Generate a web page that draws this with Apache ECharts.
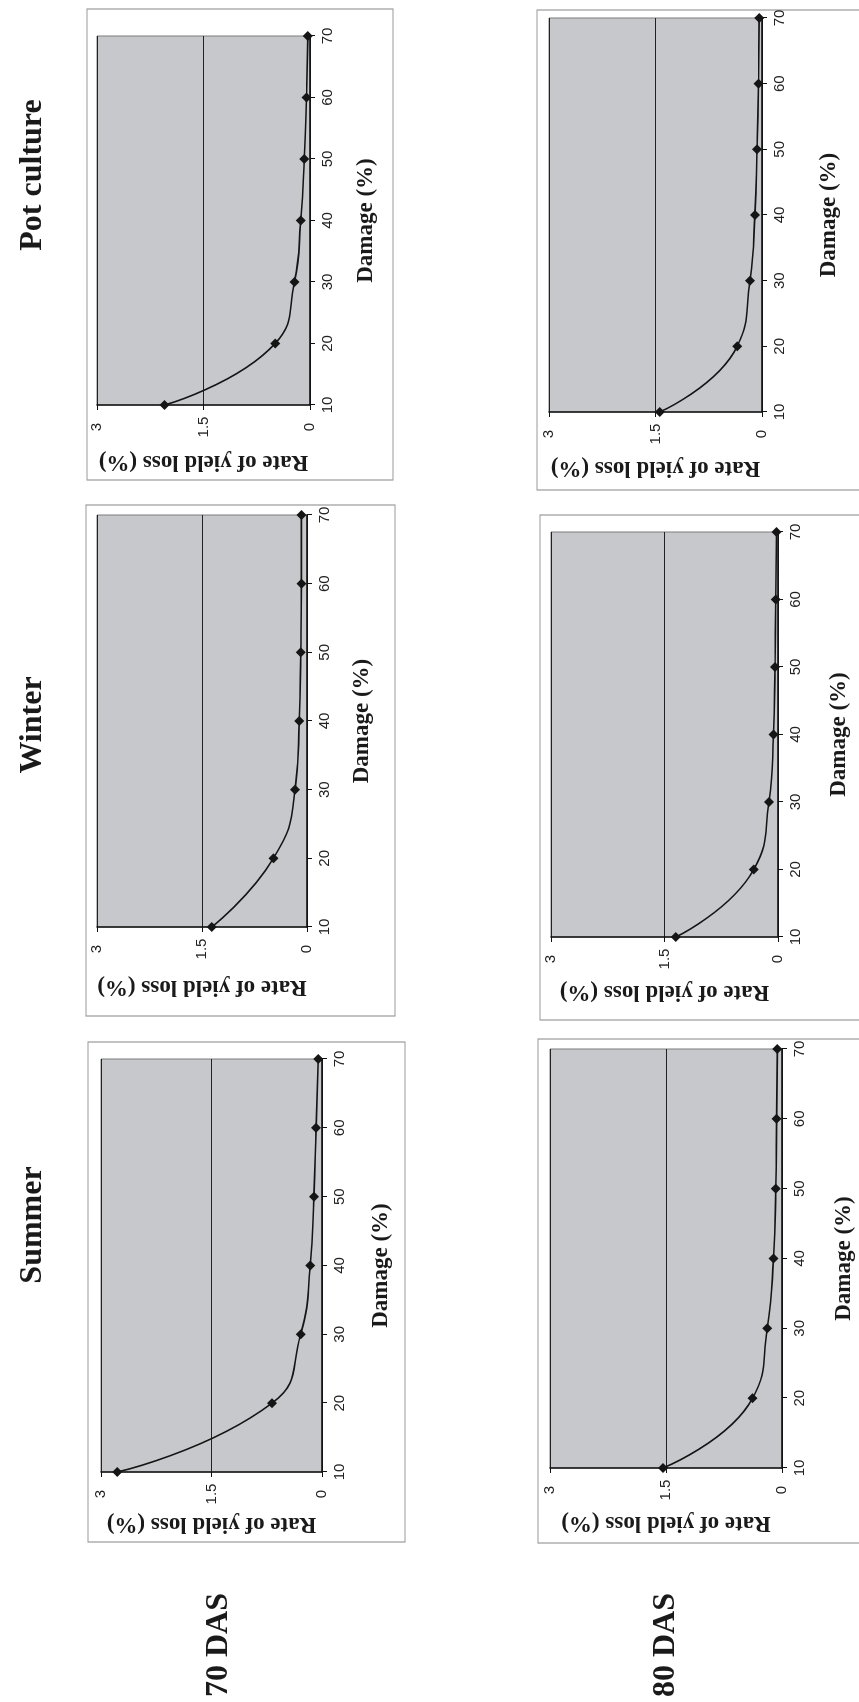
<!DOCTYPE html>
<html><head><meta charset="utf-8">
<script src="https://cdn.jsdelivr.net/npm/echarts@6/dist/echarts.min.js"></script>
<style>
html,body{margin:0;padding:0;background:#fff;width:859px;height:1702px;overflow:hidden;}
#chart{position:absolute;left:0;top:0;width:1702px;height:859px;transform-origin:0 0;transform:translate(0,1702px) rotate(-90deg);}
</style></head><body><div id="chart"></div>
<script>
// ---- data ----
const damage = [10, 20, 30, 40, 50, 60, 70];
const damageTicks = [10, 20, 30, 40, 50, 60, 70];
const rateTicks = [0, 1.5, 3];
const seasons = ['Summer', 'Winter', 'Pot culture'];
const stages = ['70 DAS', '80 DAS'];
const summer70 = [2.78, 0.68, 0.29, 0.16, 0.11, 0.08, 0.05];
const summer80 = [1.54, 0.38, 0.19, 0.11, 0.08, 0.07, 0.06];
const winter70 = [1.36, 0.48, 0.17, 0.11, 0.09, 0.08, 0.08];
const winter80 = [1.35, 0.32, 0.12, 0.06, 0.04, 0.03, 0.02];
const pot70 = [2.05, 0.49, 0.22, 0.13, 0.08, 0.05, 0.03];
const pot80 = [1.44, 0.35, 0.17, 0.10, 0.07, 0.05, 0.04];
const xName = 'Damage (%)';
const yName = 'Rate of yield loss (%)';

// ---- layout (unrotated frame 1702 x 859) ----
const panels = [
  {vals: summer70, grid: [230, 101, 413, 221], box: [160, 88, 660, 405], xg: 48, yg: 40},
  {vals: summer80, grid: [234, 550, 419, 232], box: [159, 538, 663, 866], xg: 51, yg: 43},
  {vals: winter70, grid: [775, 97, 412, 210], box: [686, 86, 1197, 395], xg: 44, yg: 48},
  {vals: winter80, grid: [765, 551, 405, 227], box: [682, 540, 1187, 866], xg: 50, yg: 43},
  {vals: pot70,    grid: [1297, 97, 369, 213], box: [1222, 87, 1693, 393], xg: 45, yg: 45},
  {vals: pot80,    grid: [1290, 549, 394, 213], box: [1212, 537, 1692, 866], xg: 56, yg: 44}
];
const headerPos = [[477, 33], [977, 33], [1527, 33]];
const stagePos = [[57, 219], [57, 666]];

const serif = '"Liberation Serif","Times New Roman",serif';
const sans = '"Liberation Sans",Arial,sans-serif';

const grids = [], xAxes = [], yAxes = [], series = [], graphics = [];
panels.forEach((p, i) => {
  graphics.push({type: 'rect', z: -10, shape: {x: p.box[0], y: p.box[1], width: p.box[2] - p.box[0], height: p.box[3] - p.box[1]},
    style: {fill: '#ffffff', stroke: '#9a9a9a', lineWidth: 1.2}});
  grids.push({left: p.grid[0], top: p.grid[1], width: p.grid[2], height: p.grid[3], show: true,
    backgroundColor: '#c6c8cb', borderColor: '#7d7d7d', borderWidth: 1});
  xAxes.push({type: 'value', gridIndex: i, min: damageTicks[0], max: damageTicks[damageTicks.length - 1], interval: 10,
    axisLine: {show: true, onZero: false, lineStyle: {color: '#111', width: 1.5}},
    axisTick: {show: true, length: 5, lineStyle: {color: '#111'}},
    axisLabel: {fontFamily: sans, fontSize: 15, color: '#222', margin: 10},
    splitLine: {show: false},
    name: xName, nameLocation: 'middle', nameGap: p.xg,
    nameTextStyle: {fontFamily: serif, fontWeight: 'bold', fontSize: 23, color: '#1a1a1a'}});
  yAxes.push({type: 'value', gridIndex: i, min: rateTicks[0], max: rateTicks[rateTicks.length - 1], interval: 1.5,
    axisLine: {show: true, lineStyle: {color: '#111', width: 1.5}},
    axisTick: {show: true, length: 5, lineStyle: {color: '#111'}},
    axisLabel: {fontFamily: sans, fontSize: 15, color: '#222', margin: 22, align: 'center'},
    splitLine: {show: true, lineStyle: {color: '#222', width: 1}},
    name: yName, nameLocation: 'middle', nameGap: p.yg,
    nameTextStyle: {fontFamily: serif, fontWeight: 'bold', fontSize: 23, color: '#1a1a1a'}});
  series.push({type: 'line', xAxisIndex: i, yAxisIndex: i, smooth: 0.5,
    data: damage.map((d, j) => [d, p.vals[j]]),
    symbol: 'diamond', symbolSize: 10,
    lineStyle: {color: '#151515', width: 1.6}, itemStyle: {color: '#151515'}});
});
seasons.forEach((s, i) => {
  graphics.push({type: 'text', x: headerPos[i][0], y: headerPos[i][1],
    style: {text: s, font: 'bold 32px ' + serif, fill: '#1a1a1a', textAlign: 'center', textVerticalAlign: 'middle'}});
});
stages.forEach((s, i) => {
  graphics.push({type: 'text', x: stagePos[i][0], y: stagePos[i][1],
    style: {text: s, font: 'bold 32px ' + serif, fill: '#1a1a1a', textAlign: 'center', textVerticalAlign: 'middle'}});
});

const chart = echarts.init(document.getElementById('chart'), null, {renderer: 'canvas', width: 1702, height: 859});
chart.setOption({
  backgroundColor: '#ffffff',
  animation: false,
  grid: grids, xAxis: xAxes, yAxis: yAxes, series: series,
  graphic: {elements: graphics}
});
</script></body></html>
